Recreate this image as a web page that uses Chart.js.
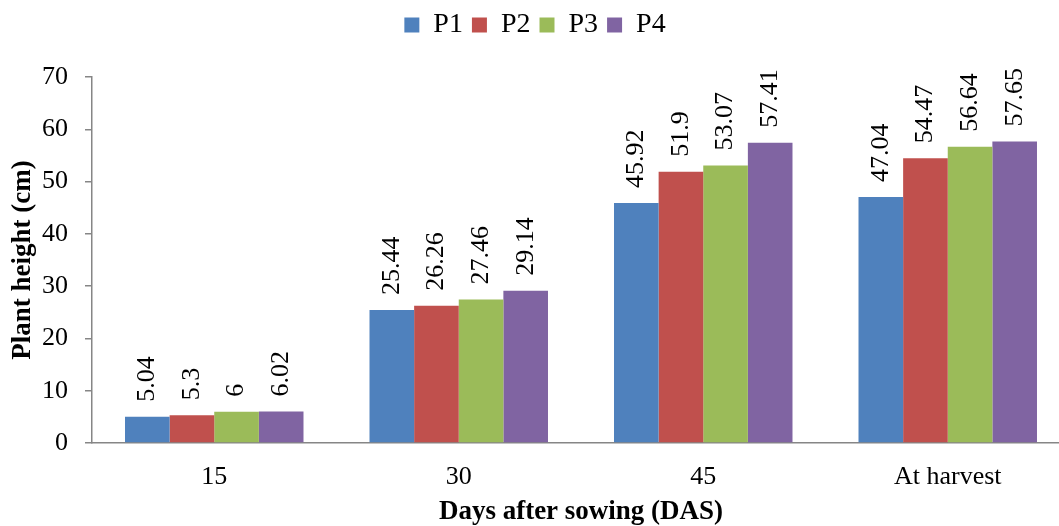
<!DOCTYPE html>
<html>
<head>
<meta charset="utf-8">
<script src="https://cdn.jsdelivr.net/npm/chart.js@4/dist/chart.umd.min.js"></script>
<style>
  html, body { margin: 0; padding: 0; background: #fff; overflow: hidden; }
  #wrap { width: 1072px; height: 526px; }
</style>
</head>
<body>
<div id="wrap"><canvas id="plant-chart" width="1072" height="526"></canvas></div>
<script>
// Kategorier og måleværdier
var days = ["15", "30", "45", "At harvest"];
var seriesNames = ["P1", "P2", "P3", "P4"];
var p1 = [5.04, 25.44, 45.92, 47.04];
var p2 = [5.3, 26.26, 51.9, 54.47];
var p3 = [6, 27.46, 53.07, 56.64];
var p4 = [6.02, 29.14, 57.41, 57.65];
var yTicks = [0, 10, 20, 30, 40, 50, 60, 70];

var colors = ["#4F81BD", "#C0504D", "#9BBB59", "#8064A2"];
var serif = "'Liberation Serif', 'Times New Roman', serif";
var axisGray = "#868686";

var data = {
    labels: days,
    datasets: [p1, p2, p3, p4].map(function (vals, i) {
        return {
            label: seriesNames[i],
            data: vals,
            backgroundColor: colors[i],
            borderWidth: 0,
            categoryPercentage: 0.73,
            barPercentage: 1.0
        };
    })
};

// Tal over søjlerne, drejet 90 grader
var valueLabels = {
    id: 'valueLabels',
    afterDatasetsDraw: function (chart) {
        var ctx = chart.ctx;
        ctx.save();
        ctx.font = "26px " + serif;
        ctx.fillStyle = "#000";
        ctx.textAlign = "left";
        ctx.textBaseline = "middle";
        chart.data.datasets.forEach(function (ds, i) {
            var meta = chart.getDatasetMeta(i);
            meta.data.forEach(function (bar, j) {
                ctx.save();
                ctx.translate(bar.x, bar.y - 15);
                ctx.rotate(-Math.PI / 2);
                ctx.fillText(String(ds.data[j]), 0, 0);
                ctx.restore();
            });
        });
        ctx.restore();
    }
};

// Ekstra luft under forklaringen
var legendSpace = {
    id: 'legendSpace',
    beforeInit: function (chart) {
        var fit = chart.legend.fit;
        chart.legend.fit = function () {
            fit.bind(chart.legend)();
            this.height += 28;
        };
    }
};

var options = {
    responsive: false,
    animation: false,
    layout: { padding: { top: 2, right: 2, left: 0, bottom: 0 } },
    plugins: {
        legend: {
            position: 'top',
            labels: {
                boxWidth: 15,
                boxHeight: 15,
                padding: 9,
                color: "#000",
                font: { family: serif, size: 28 }
            }
        },
        tooltip: { enabled: false }
    },
    scales: {
        x: {
            grid: { display: false },
            border: { color: axisGray, width: 1.5 },
            ticks: { color: "#000", padding: 11, font: { family: serif, size: 26 } },
            title: {
                display: true,
                text: 'Days after sowing (DAS)',
                color: "#000",
                padding: 0,
                font: { family: serif, size: 27, weight: 'bold', lineHeight: 1 }
            },
            afterFit: function (scale) { scale.height = 83; }
        },
        y: {
            min: 0,
            max: 70,
            afterBuildTicks: function (scale) {
                scale.ticks = yTicks.map(function (v) { return { value: v }; });
            },
            grid: { drawOnChartArea: false, tickLength: 7, color: axisGray, lineWidth: 1.5 },
            border: { color: axisGray, width: 1.5 },
            ticks: { color: "#000", padding: 17, font: { family: serif, size: 26 } },
            title: {
                display: true,
                text: 'Plant height (cm)',
                color: "#000",
                padding: { top: 10, bottom: 0 },
                font: { family: serif, size: 27, weight: 'bold', lineHeight: 1 }
            },
            afterFit: function (scale) { scale.width = 92; }
        }
    }
};

var ctx = document.getElementById('plant-chart').getContext('2d');
var plantChart = new Chart(ctx, {
    type: 'bar',
    data: data,
    options: options,
    plugins: [valueLabels, legendSpace]
});
</script>
</body>
</html>
